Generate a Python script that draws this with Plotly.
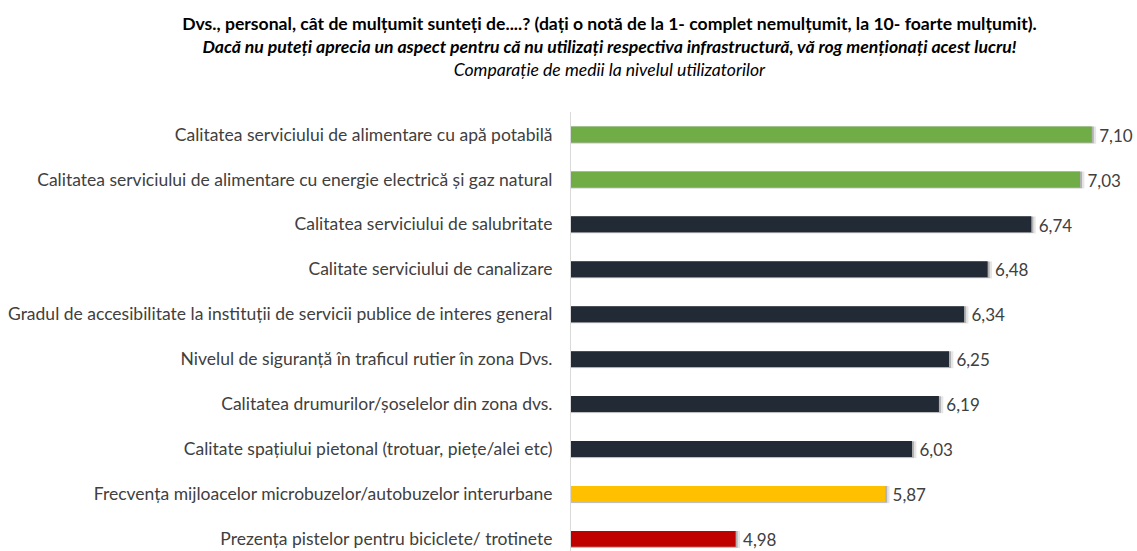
import plotly.graph_objects as go

categories = [
    "Calitatea serviciului de alimentare cu apă potabilă",
    "Calitatea serviciului de alimentare cu energie electrică și gaz natural",
    "Calitatea serviciului de salubritate",
    "Calitate serviciului de canalizare",
    "Gradul de accesibilitate la instituții de servicii publice de interes general",
    "Nivelul de siguranță în traficul rutier în zona Dvs.",
    "Calitatea drumurilor/șoselelor din zona dvs.",
    "Calitate spațiului pietonal (trotuar, piețe/alei etc)",
    "Frecvența mijloacelor microbuzelor/autobuzelor interurbane",
    "Prezența pistelor pentru biciclete/ trotinete",
]
values = [7.10, 7.03, 6.74, 6.48, 6.34, 6.25, 6.19, 6.03, 5.87, 4.98]
labels = ["7,10", "7,03", "6,74", "6,48", "6,34", "6,25", "6,19", "6,03", "5,87", "4,98"]
bar_colors = ["#70AD47", "#70AD47", "#222A35", "#222A35", "#222A35",
              "#222A35", "#222A35", "#222A35", "#FFC000", "#C00000"]

FONT = "Lato"
AXIS_MIN = 4

fig = go.Figure()
# soft shadow behind each bar (two layers to fake a gradient)
fig.add_trace(go.Bar(
    y=categories, x=[v + 0.026 - AXIS_MIN for v in values], base=AXIS_MIN, orientation="h",
    marker=dict(color="rgba(0,0,0,0.10)", line=dict(width=0)),
    width=0.38, offset=-0.175,
    text=labels, textposition="outside", constraintext="none",
    textfont=dict(family=FONT, size=17, color="#404040"),
    cliponaxis=False, hoverinfo="skip", showlegend=False,
))
fig.add_trace(go.Bar(
    y=categories, x=[v + 0.012 - AXIS_MIN for v in values], base=AXIS_MIN, orientation="h",
    marker=dict(color="rgba(0,0,0,0.22)", line=dict(width=0)),
    width=0.37, offset=-0.175,
    hoverinfo="skip", showlegend=False,
))
fig.add_trace(go.Bar(
    y=categories, x=[v - AXIS_MIN for v in values], base=AXIS_MIN, orientation="h",
    marker=dict(color=bar_colors, line=dict(width=0)),
    width=0.355, offset=-0.1775,
    showlegend=False,
))

fig.update_layout(
    width=1137, height=551,
    barmode="overlay",
    plot_bgcolor="white", paper_bgcolor="white",
    margin=dict(l=571, r=0, t=112, b=0),
    font=dict(family=FONT, size=17, color="#404040"),
    title=dict(
        text="<b>Dvs., personal, cât de mulțumit sunteți de....? (dați o notă de la 1- complet nemulțumit, la 10- foarte mulțumit).</b><br>"
             "<b><i>Dacă nu puteți aprecia un aspect pentru că nu utilizați respectiva infrastructură, vă rog menționați acest lucru!</i></b><br>"
             "<i>Comparație de medii la nivelul utilizatorilor</i>",
        x=0.536, xanchor="center", y=1 - 30 / 551, yanchor="top",
        font=dict(family=FONT, size=17.6, color="#000000"),
    ),
    xaxis=dict(range=[AXIS_MIN, AXIS_MIN + 566 / 168], visible=False, fixedrange=True),
    yaxis=dict(
        range=[9.27, -0.5], showline=True, linecolor="#D9D9D9", linewidth=1,
        showgrid=False, zeroline=False, ticks="", ticklabelstandoff=14,
        tickfont=dict(family=FONT, size=17.5, color="#404040"),
    ),
)
fig.write_html("out.html", config={"displayModeBar": False},
               post_script="document.body.style.margin='0';")
